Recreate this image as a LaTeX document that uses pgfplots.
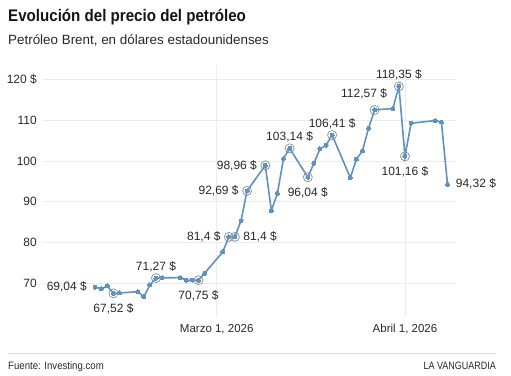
\documentclass[border=0pt]{standalone}
\usepackage{fontspec}
\setmainfont{Liberation Sans}
\newfontfamily\titlefont[FakeStretch=0.9]{Liberation Sans}
\newfontfamily\footfont[FakeStretch=0.9]{Liberation Sans}
\newfontfamily\brandfont[FakeStretch=0.84]{Liberation Sans}
\usepackage{pgfplots}
\pgfplotsset{compat=1.18}
\definecolor{lineblue}{RGB}{96,145,192}
\definecolor{gridgray}{RGB}{236,236,236}
\definecolor{txt}{RGB}{40,40,40}
\definecolor{ringgray}{RGB}{140,150,160}
\definecolor{rulegray}{RGB}{220,220,220}
\pgfplotsset{
  lbl/.style={
    only marks, mark=o, mark size=4.5bp,
    mark options={draw=ringgray, line width=0.8bp},
    point meta=y,
    nodes near coords={\pgfmathprintnumber[use comma,fixed,precision=2,assume math mode=true]{\pgfplotspointmeta} \$},
    every node near coord/.append style={inner sep=0pt, font=\fontsize{12bp}{14bp}\selectfont, text=txt},
  }
}
\begin{document}
\begin{tikzpicture}[x=1bp,y=1bp]
\path (0,0) rectangle (511,375);
\node[anchor=base west, inner sep=0, text=black!92] at (8,354) {\titlefont\fontsize{16.8bp}{18bp}\selectfont\bfseries Evolución del precio del petróleo};
\node[anchor=base west, inner sep=0, text=txt] at (8,331) {\fontsize{13.4bp}{15bp}\selectfont Petróleo Brent, en dólares estadounidenses};
\draw[rulegray, line width=0.8bp] (8,22) -- (496,22);
\node[anchor=base west, inner sep=0, text=txt] at (8,5.7) {\footfont\fontsize{10.7bp}{12bp}\selectfont Fuente: Investing.com};
\node[anchor=base east, inner sep=0, text=txt] at (496,5.7) {\brandfont\fontsize{10.7bp}{12bp}\selectfont LA VANGUARDIA};
\begin{axis}[
  at={(43bp,58bp)}, anchor=south west,
  scale only axis, width=413bp, height=252bp,
  xmin=-28.6, xmax=39.4, ymin=61.72, ymax=123.6,
  clip=false,
  axis line style={draw=none}, major tick length=0pt,
  xmajorgrids, ymajorgrids,
  major grid style={gridgray, line width=0.8bp},
  xtick={0,31}, xticklabels={{Marzo 1, 2026},{Abril 1, 2026}},
  ytick={70,80,90,100,110,120}, yticklabels={70,80,90,100,110,{120 \$}},
  yticklabel style={anchor=east, inner sep=0pt, xshift=-6bp, font=\fontsize{12bp}{14bp}\selectfont, text=txt},
  xticklabel style={anchor=north, inner sep=0pt, yshift=-7bp, font=\fontsize{11.5bp}{14bp}\selectfont, text=txt},
]
\addplot[lineblue, line width=1.6bp, mark=*, mark size=2bp, mark options={fill=lineblue, draw=lineblue, line width=0pt}] coordinates {
(-20,69.04) (-19,68.67) (-18,69.34) (-17,67.52) (-16,67.62) (-13,67.94) (-12,66.70) (-11,69.58) (-10,71.27) (-9,71.35) (-6,71.38) (-5,70.74) (-4,70.80) (-3,70.75) (-2,72.46) (1,77.69) (2,81.4) (3,81.4) (4,85.38) (5,92.69) (8,98.96) (9,87.84) (10,92.11) (11,100.6) (12,103.14) (15,96.04) (16,99.48) (17,103.0) (18,103.9) (19,106.41) (22,95.9) (23,100.47) (24,102.5) (25,108.08) (26,112.57) (29,112.9) (30,118.35) (31,101.16) (32,109.3) (36,109.95) (37,109.56) (38,94.32)
};
% end points: label without ring
\addplot[lbl, mark=none, every node near coord/.append style={anchor=east, xshift=-8bp}] coordinates {
(-20,69.04)
};
\addplot[lbl, mark=none, every node near coord/.append style={anchor=west, xshift=8bp}] coordinates {
(38,94.32)
};
% labels to the left
\addplot[lbl, every node near coord/.append style={anchor=east, xshift=-8bp}] coordinates {
(2,81.4) (5,92.69) (8,98.96)
};
% labels to the right
\addplot[lbl, every node near coord/.append style={anchor=west, xshift=8bp}] coordinates {
(3,81.4)
};
% labels above
\addplot[lbl, every node near coord/.append style={anchor=south, yshift=6bp}] coordinates {
(-10,71.27) (12,103.14) (19,106.41) (30,118.35)
};
\addplot[lbl, every node near coord/.append style={anchor=south, xshift=-10.5bp, yshift=10bp}] coordinates {
(26,112.57)
};
% labels below
\addplot[lbl, every node near coord/.append style={anchor=north, yshift=-10bp}] coordinates {
(-17,67.52) (-3,70.75) (15,96.04) (31,101.16)
};
\end{axis}
\end{tikzpicture}
\end{document}
